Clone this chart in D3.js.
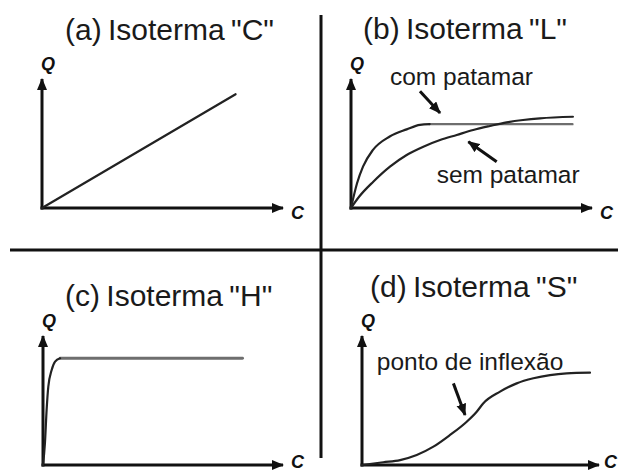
<!DOCTYPE html>
<html lang="pt">
<head>
<meta charset="UTF-8">
<title>Isotermas</title>
<script src="https://cdn.jsdelivr.net/npm/d3@7"></script>
<style>
    body { margin: 0; background: #fff; }
    svg { display: block; }
    .title { font-family: "Liberation Sans", Arial, sans-serif; font-size: 30px; fill: #1a1a1a; word-spacing: -2px; }
    .note { font-family: "Liberation Sans", Arial, sans-serif; font-size: 24.5px; fill: #1a1a1a; }
    .axlab { font-family: "Liberation Sans", Arial, sans-serif; font-weight: bold; font-style: italic; fill: #111; }
</style>
</head>
<body>
<svg id="chart" width="618" height="473"></svg>
<script>
    // curve values (C on x, Q on y, axis length = 10 units)
    let curveA_C = [0, 8.0];
    let curveA_Q = [0, 8.75];

    let comPatamar_C = [0, 0.25, 0.5, 0.9, 1.6, 2.3, 2.85, 3.25];
    let comPatamar_Q = [0, 1.9, 3.2, 4.45, 5.5, 6.05, 6.4, 6.45];
    let comPlateau_C = [3.25, 9.15];
    let comPlateau_Q = [6.45, 6.45];

    let semPatamar_C = [0, 0.35, 0.92, 1.61, 2.3, 2.99, 3.68, 4.37, 5.05, 5.74, 6.43, 7.11, 7.81, 9.17];
    let semPatamar_Q = [0, 0.9, 2.02, 3.18, 4.08, 4.72, 5.23, 5.62, 6.0, 6.31, 6.59, 6.77, 6.9, 7.02];

    let curveH_C = [0, 0.08, 0.15, 0.22, 0.36, 0.5, 0.71];
    let curveH_Q = [0, 1.67, 4.23, 6.02, 7.31, 7.95, 8.21];
    let plateauH_C = [0.71, 8.28];
    let plateauH_Q = [8.21, 8.21];

    let curveS_C = [0, 0.89, 1.6, 2.3, 3.0, 3.7, 4.4, 4.82, 5.1, 5.8, 6.5, 7.2, 7.9, 8.6, 9.58];
    let curveS_Q = [0, 0.21, 0.38, 0.77, 1.41, 2.31, 3.33, 4.1, 4.75, 5.64, 6.28, 6.67, 6.92, 7.05, 7.1];

    let titles = ['(a) Isoterma "C"', '(b) Isoterma "L"', '(c) Isoterma "H"', '(d) Isoterma "S"'];
    let notes = ['com patamar', 'sem patamar', 'ponto de inflexão'];

    let svg = d3.select('svg#chart');
    let ink = '#111';

    // panel layout: axis origin and arrow tips, title position
    let panels = [
        {ox: 42, oy: 208, xTip: 284, yTip: 78, tx: 65, ty: 40},
        {ox: 351, oy: 208, xTip: 593, yTip: 78, tx: 363, ty: 39},
        {ox: 43, oy: 465, xTip: 284, yTip: 335, tx: 65, ty: 306},
        {ox: 362, oy: 465, xTip: 600, yTip: 335, tx: 370, ty: 297}
    ];

    let defs = svg.append('defs');
    defs.append('marker')
        .attr('id', 'head')
        .attr('viewBox', '0 0 12 10')
        .attr('refX', 11).attr('refY', 5)
        .attr('markerWidth', 4).attr('markerHeight', 3.4)
        .attr('markerUnits', 'strokeWidth')
        .attr('orient', 'auto')
        .append('path')
        .attr('d', 'M0,0 L12,5 L0,10 z')
        .attr('fill', ink);

    // separators
    svg.append('line').attr('x1', 321).attr('x2', 321).attr('y1', 15).attr('y2', 458)
        .attr('stroke', ink).attr('stroke-width', 3);
    svg.append('line').attr('x1', 10).attr('x2', 618).attr('y1', 250).attr('y2', 250)
        .attr('stroke', ink).attr('stroke-width', 3);

    let scales = panels.map(function (p) {
        return {
            x: d3.scaleLinear().domain([0, 10]).range([p.ox, p.xTip]),
            y: d3.scaleLinear().domain([0, 10]).range([p.oy, p.yTip])
        };
    });

    panels.forEach(function (p, i) {
        let g = svg.append('g');
        // axes with arrow heads
        g.append('line').attr('x1', p.ox).attr('y1', p.oy + 1.5).attr('x2', p.ox).attr('y2', p.yTip + 1)
            .attr('stroke', ink).attr('stroke-width', 3).attr('marker-end', 'url(#head)');
        g.append('line').attr('x1', p.ox - 1.5).attr('y1', p.oy).attr('x2', p.xTip - 1).attr('y2', p.oy)
            .attr('stroke', ink).attr('stroke-width', 3).attr('marker-end', 'url(#head)');
        g.append('text').attr('class', 'axlab').attr('x', p.ox + 6).attr('y', p.yTip - 8)
            .attr('text-anchor', 'middle').style('font-size', '18px').text('Q');
        // keep the C labels inside the picture at the bottom/right edges
        g.append('text').attr('class', 'axlab')
            .attr('x', Math.min(p.xTip + 7, 604))
            .attr('y', Math.min(p.oy + 11, 468))
            .style('font-size', '18px').text('C');
        g.append('text').attr('class', 'title').attr('x', p.tx).attr('y', p.ty).text(titles[i]);
    });

    function drawCurve(k, cs, qs, colour, width, smooth) {
        let s = scales[k];
        let pts = d3.zip(cs, qs);
        let line = d3.line()
            .x(function (d) { return s.x(d[0]); })
            .y(function (d) { return s.y(d[1]); })
            .curve(smooth ? d3.curveMonotoneX : d3.curveLinear);
        svg.append('path').datum(pts)
            .attr('d', line)
            .attr('fill', 'none')
            .attr('stroke', colour)
            .attr('stroke-width', width)
            .attr('stroke-linecap', 'round');
    }

    function drawArrow(k, from, to) {
        let s = scales[k];
        svg.append('line')
            .attr('x1', s.x(from[0])).attr('y1', s.y(from[1]))
            .attr('x2', s.x(to[0])).attr('y2', s.y(to[1]))
            .attr('stroke', ink).attr('stroke-width', 3)
            .attr('marker-end', 'url(#head)');
    }

    function drawNote(k, at, txt) {
        let s = scales[k];
        svg.append('text').attr('class', 'note')
            .attr('x', s.x(at[0])).attr('y', s.y(at[1])).text(txt);
    }

    // (a)
    drawCurve(0, curveA_C, curveA_Q, '#222', 2.2, false);

    // (b)
    drawCurve(1, comPlateau_C, comPlateau_Q, '#6e6e6e', 2.4, false);
    drawCurve(1, semPatamar_C, semPatamar_Q, '#222', 2.2, true);
    drawCurve(1, comPatamar_C, comPatamar_Q, '#222', 2.2, true);
    drawArrow(1, [2.85, 8.98], [3.68, 7.31]);
    drawArrow(1, [6.02, 3.56], [4.85, 5.1]);
    drawNote(1, [1.61, 9.46], notes[0]);
    drawNote(1, [3.54, 1.9], notes[1]);

    // (c)
    drawCurve(2, plateauH_C, plateauH_Q, '#6e6e6e', 2.8, false);
    drawCurve(2, curveH_C, curveH_Q, '#222', 2.2, true);

    // (d)
    drawCurve(3, curveS_C, curveS_Q, '#222', 2.2, true);
    drawArrow(3, [3.84, 6.28], [4.33, 3.85]);
    drawNote(3, [0.62, 7.31], notes[2]);
</script>
</body>
</html>
